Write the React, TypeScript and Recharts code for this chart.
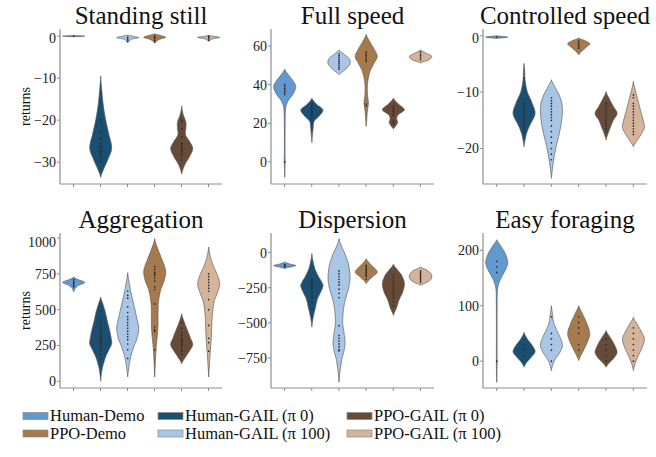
import React from "react";
import { Bar, ComposedChart, XAxis, YAxis } from "recharts";

const categories = [
  "Human-Demo",
  "Human-GAIL (π 0)",
  "Human-GAIL (π 100)",
  "PPO-Demo",
  "PPO-GAIL (π 0)",
  "PPO-GAIL (π 100)",
];
const colors = ["#6199d1", "#1b4f72", "#a9c6e6", "#a77a4d", "#654b38", "#d5b49c"];

// legend rows as in the figure (index into categories)
const legendRows = [
  [0, 1, 4],
  [3, 2, 5],
];

// each violin: [value, relative half width] knots, top to bottom
const standingStillShapes = [
  [[0.15, 0], [0, 1], [-0.15, 0]],
  [[-9.45, 0], [-13.6, 0.12], [-16.75, 0.25], [-19.9, 0.45], [-23.1, 0.72], [-26.7, 1.0], [-29.4, 0.65], [-31.8, 0.25], [-33.65, 0]],
  [[0.3, 0], [-0.1, 0.6], [-0.35, 1], [-0.7, 0.35], [-1.5, 0]],
  [[0.55, 0], [0.1, 0.6], [-0.25, 1], [-0.7, 0.5], [-1.2, 0.15], [-1.7, 0]],
  [[-16.6, 0], [-18.5, 0.12], [-20.5, 0.38], [-22, 0.38], [-23.5, 0.35], [-25, 0.7], [-26.7, 1.0], [-28.5, 0.75], [-30.5, 0.3], [-32.8, 0]],
  [[0.15, 0], [-0.1, 0.6], [-0.3, 1], [-0.6, 0.4], [-1.2, 0]],
];
const standingStillPoints = [
  [0],
  [-13.5, -20, -22.8, -24.5, -25.5, -26, -26.5, -27, -27.5, -28, -28.5, -29, -29.8],
  [-0.2, -0.5, -0.9, -1.3],
  [0, -0.3, -0.6, -1, -1.4],
  [-20, -20.5, -22, -24, -25.5, -26, -26.5, -27, -27.5, -28, -28.5, -29.5],
  [0, -0.3, -0.6, -1],
];

const fullSpeedShapes = [
  [[48, 0], [45, 0.35], [42, 0.75], [39, 1.0], [35, 0.75], [32, 0.35], [29, 0.12], [25, 0.05], [15, 0.03], [5, 0.03], [0, 0.04], [-4, 0.02], [-8, 0]],
  [[33, 0], [30, 0.4], [27, 1.0], [24, 0.7], [21, 0.2], [18, 0.12], [14, 0.05], [10, 0]],
  [[58, 0], [56, 0.4], [53.5, 0.9], [51, 1.0], [48, 0.6], [45.2, 0]],
  [[66, 0], [62, 0.35], [58, 0.75], [54.5, 1.0], [51, 0.7], [47, 0.35], [42, 0.15], [38, 0.1], [34, 0.13], [30.5, 0.2], [26, 0.1], [22, 0.05], [18.4, 0]],
  [[33, 0], [30, 0.45], [27, 1.0], [24.5, 0.45], [22.5, 0.3], [20.5, 0.38], [18.5, 0.2], [17, 0]],
  [[58, 0], [56, 0.6], [54.8, 1.0], [53, 0.8], [51.2, 0]],
];
const fullSpeedPoints = [
  [35, 36, 37, 38, 39, 40, 0],
  [20, 22, 23, 24, 25, 26, 27, 28, 29, 30],
  [48, 49, 50, 51, 52, 53, 54, 55, 56],
  [52, 53, 54, 55, 56, 57, 29, 30],
  [20, 21, 24, 25, 26, 27, 28, 29],
  [53, 54, 55, 56, 57],
];

const controlledSpeedShapes = [
  [[0, 0], [-0.24, 1], [-0.48, 0]],
  [[-4.9, 0], [-6, 0.05], [-8, 0.1], [-10, 0.3], [-11.5, 0.65], [-13.8, 1.0], [-16, 0.5], [-17.5, 0.2], [-19.7, 0]],
  [[-7.8, 0], [-9, 0.3], [-10.5, 0.7], [-12, 0.95], [-13.5, 1.0], [-15.5, 0.9], [-17.5, 0.7], [-19.5, 0.45], [-21.5, 0.25], [-23.5, 0.1], [-25.3, 0]],
  [[-0.4, 0], [-0.9, 0.6], [-1.4, 1.0], [-2, 0.7], [-2.8, 0.25], [-3.4, 0]],
  [[-9.9, 0], [-11, 0.25], [-12.5, 0.65], [-13.8, 1.0], [-15, 0.65], [-16.5, 0.35], [-17.5, 0.15], [-18.5, 0]],
  [[-8.1, 0], [-9.5, 0.15], [-11, 0.35], [-12.5, 0.55], [-14, 0.75], [-15.5, 0.95], [-16.3, 1.0], [-17.5, 0.7], [-18.7, 0.3], [-19.7, 0]],
];
const controlledSpeedPoints = [
  [-0.24],
  [-7.5, -12, -12.5, -13, -13.5, -14, -14.5, -15, -15.5, -16, -16.5, -17],
  [-11, -11.5, -12, -12.5, -13, -13.5, -14, -14.5, -15, -16, -17, -18, -19, -20, -21, -22],
  [-1, -1.3, -1.6, -1.9, -2.2],
  [-12, -12.5, -13, -13.5, -14, -14.5, -15, -15.5, -16, -16.5, -17],
  [-10.5, -11, -12, -12.5, -13, -13.5, -14, -14.5, -15, -15.5, -16, -16.5, -17, -17.5],
];

const aggregationShapes = [
  [[728, 0], [710, 0.4], [690, 1.0], [670, 0.45], [650, 0.15], [623, 0]],
  [[588, 0], [540, 0.2], [490, 0.4], [420, 0.6], [360, 0.8], [300, 0.95], [263, 1.0], [220, 0.75], [170, 0.45], [120, 0.25], [80, 0.12], [40, 0.05], [0, 0]],
  [[758, 0], [680, 0.15], [600, 0.35], [520, 0.6], [450, 0.8], [370, 1.0], [300, 0.85], [240, 0.55], [180, 0.3], [120, 0.15], [70, 0.06], [30, 0]],
  [[996, 0], [930, 0.25], [860, 0.6], [800, 0.9], [760, 1.0], [700, 0.85], [640, 0.55], [560, 0.35], [480, 0.3], [400, 0.3], [330, 0.25], [250, 0.15], [170, 0.08], [100, 0.04], [30, 0]],
  [[472, 0], [420, 0.2], [360, 0.5], [300, 0.8], [255, 1.0], [210, 0.7], [170, 0.35], [123, 0]],
  [[937, 0], [870, 0.15], [800, 0.45], [740, 0.8], [680, 1.0], [620, 0.8], [560, 0.5], [480, 0.35], [400, 0.28], [320, 0.25], [240, 0.18], [160, 0.1], [100, 0.05], [30, 0]],
];
const aggregationPoints = [
  [660, 670, 680, 690, 700, 710],
  [160, 190, 210, 230, 250, 260, 270, 280, 290, 300, 320, 340, 360, 380, 400, 430, 490],
  [160, 220, 260, 290, 310, 330, 350, 370, 390, 410, 430, 450, 480, 520, 580, 600, 630],
  [220, 350, 360, 380, 540, 640, 660, 700, 720, 740, 750, 760, 780, 800],
  [190, 210, 230, 250, 260, 270, 280, 290, 300, 320, 340, 370, 410],
  [210, 270, 300, 390, 500, 570, 630, 650, 670, 690, 710, 730, 750],
];

const dispersionShapes = [
  [[-67, 0], [-82, 0.5], [-92, 1.0], [-104, 0.4], [-114, 0]],
  [[-7, 0], [-60, 0.1], [-120, 0.3], [-170, 0.6], [-220, 0.95], [-240, 1.0], [-280, 0.8], [-330, 0.5], [-400, 0.3], [-460, 0.12], [-530, 0]],
  [[100, 0], [50, 0.2], [0, 0.5], [-80, 0.85], [-180, 1.0], [-260, 0.85], [-340, 0.55], [-420, 0.38], [-500, 0.33], [-570, 0.45], [-640, 0.55], [-700, 0.45], [-760, 0.25], [-840, 0.1], [-922, 0]],
  [[-43, 0], [-80, 0.35], [-110, 0.75], [-140, 1.0], [-170, 0.6], [-200, 0.2], [-221, 0]],
  [[-83, 0], [-120, 0.35], [-160, 0.75], [-220, 1.0], [-280, 0.85], [-340, 0.5], [-390, 0.3], [-447, 0]],
  [[-102, 0], [-130, 0.7], [-160, 1.0], [-190, 0.95], [-215, 0.5], [-233, 0]],
];
const dispersionPoints = [
  [-85, -90, -95, -100],
  [-190, -200, -210, -220, -230, -240, -250, -260, -280, -300, -320, -350, -400, -450],
  [-130, -150, -170, -190, -210, -230, -260, -290, -320, -520, -590, -610, -630, -650, -670, -690, -700],
  [-90, -100, -110, -120, -130, -140, -150, -160, -170, -190],
  [-160, -180, -200, -220, -240, -260, -280, -300, -320, -350, -380],
  [-130, -140, -150, -160, -170, -180, -190, -200, -210],
];

const easyForagingShapes = [
  [[219, 0], [210, 0.3], [195, 0.75], [178, 1.0], [165, 0.8], [150, 0.4], [138, 0.15], [125, 0.05], [80, 0.03], [20, 0.03], [-10, 0.03], [-38, 0]],
  [[52, 0], [40, 0.3], [28, 0.75], [17, 1.0], [7, 0.65], [-2, 0.25], [-11, 0]],
  [[100, 0], [85, 0.1], [70, 0.2], [55, 0.5], [40, 0.85], [28, 1.0], [15, 0.75], [5, 0.4], [-5, 0.15], [-17, 0]],
  [[100, 0], [85, 0.35], [70, 0.7], [50, 1.0], [35, 0.8], [20, 0.45], [8, 0.15], [1, 0]],
  [[55, 0], [42, 0.4], [30, 0.75], [16, 1.0], [5, 0.7], [-3, 0.3], [-11, 0]],
  [[79, 0], [65, 0.4], [50, 0.8], [40, 1.0], [25, 0.8], [10, 0.45], [-5, 0.15], [-17, 0]],
];
const easyForagingPoints = [
  [160, 170, 180, 0],
  [10, 20, 30],
  [0, 20, 30, 40, 50, 80],
  [20, 30, 50, 60, 70, 80],
  [0, 10, 20, 30, 40],
  [0, 10, 20, 30, 40, 50, 60],
];

const panels = [
  { title: "Standing still", left: 60, top: 29, width: 162, domain: [-35.2, 1.7], ticks: [-30, -20, -10, 0], shapes: standingStillShapes, points: standingStillPoints, ylabel: true },
  { title: "Full speed", left: 271, top: 29, width: 163, domain: [-11.4, 68.8], ticks: [0, 20, 40, 60], shapes: fullSpeedShapes, points: fullSpeedPoints, ylabel: false },
  { title: "Controlled speed", left: 483, top: 29, width: 164, domain: [-26.3, 1.2], ticks: [-20, -10, 0], shapes: controlledSpeedShapes, points: controlledSpeedPoints, ylabel: false },
  { title: "Aggregation", left: 60, top: 233, width: 162, domain: [-47, 1035], ticks: [0, 250, 500, 750, 1000], shapes: aggregationShapes, points: aggregationPoints, ylabel: true },
  { title: "Dispersion", left: 271, top: 233, width: 163, domain: [-964, 140], ticks: [-750, -500, -250, 0], shapes: dispersionShapes, points: dispersionPoints, ylabel: false },
  { title: "Easy foraging", left: 483, top: 233, width: 164, domain: [-48.4, 231], ticks: [0, 100, 200], shapes: easyForagingShapes, points: easyForagingPoints, ylabel: false },
];

const PLOT_H = 155;
const AXIS_W = 50;
const axisColor = "#8e8e8e";
const font = "Liberation Serif";

function sampleProfile(knots: number[][]) {
  const out: number[][] = [];
  const n = knots.length;
  for (let i = 0; i < n - 1; i++) {
    const p0 = knots[Math.max(i - 1, 0)];
    const p1 = knots[i];
    const p2 = knots[i + 1];
    const p3 = knots[Math.min(i + 2, n - 1)];
    for (let s = 0; s < 10; s++) {
      const t = s / 10;
      const v = p1[0] + (p2[0] - p1[0]) * t;
      const w =
        0.5 *
        (2 * p1[1] +
          (-p0[1] + p2[1]) * t +
          (2 * p0[1] - 5 * p1[1] + 4 * p2[1] - p3[1]) * t * t +
          (-p0[1] + 3 * p1[1] - 3 * p2[1] + p3[1]) * t * t * t);
      out.push([v, Math.max(0, w)]);
    }
  }
  out.push(knots[n - 1]);
  return out;
}

function Violin(props: any) {
  const { x, y, width, height, payload } = props;
  if (!payload) return null;
  const knots: number[][] = payload.shape;
  const top = Math.min(y, y + height);
  const bottom = Math.max(y, y + height);
  const hi = knots[0][0];
  const lo = knots[knots.length - 1][0];
  const toPx = (v: number) => top + ((hi - v) / (hi - lo)) * (bottom - top);
  const cx = x + width / 2;
  const hw = width / 2;
  const prof = sampleProfile(knots);
  const right = prof.map(([v, w]) => `${(cx + w * hw).toFixed(2)},${toPx(v).toFixed(2)}`);
  const left = prof
    .slice()
    .reverse()
    .map(([v, w]) => `${(cx - w * hw).toFixed(2)},${toPx(v).toFixed(2)}`);
  const d = `M${right.join("L")}L${left.join("L")}Z`;
  return (
    <g>
      <path d={d} fill={payload.color} stroke="#5a5a5a" strokeWidth={0.7} />
      {payload.points.map((v: number, i: number) => (
        <circle key={i} cx={cx} cy={toPx(v)} r={0.85} fill="#2b2b2b" />
      ))}
    </g>
  );
}

const fmtTick = (v: number) => String(v).replace("-", "\u2212");

function YTick({ x, y, payload }: any) {
  return (
    <text x={x} y={y} dy="0.35em" textAnchor="end" fontFamily={font} fontSize={14} fill="#222">
      {fmtTick(payload.value)}
    </text>
  );
}

function ViolinPanel({ panel }: { panel: (typeof panels)[number] }) {
  const data = categories.map((name, i) => {
    const shape = panel.shapes[i];
    return {
      name,
      range: [shape[shape.length - 1][0], shape[0][0]],
      shape,
      points: panel.points[i],
      color: colors[i],
    };
  });
  return (
    <div style={{ position: "absolute", left: panel.left - AXIS_W, top: panel.top }}>
      <ComposedChart
        width={panel.width + AXIS_W}
        height={PLOT_H + 10}
        data={data}
        margin={{ top: 0, right: 0, bottom: 0, left: 0 }}
        barCategoryGap="10%"
      >
        <XAxis
          dataKey="name"
          type="category"
          height={10}
          interval={0}
          axisLine={{ stroke: axisColor, strokeWidth: 1.2 }}
          tickLine={{ stroke: axisColor }}
          tickSize={3}
          tick={() => <g />}
        />
        <YAxis
          type="number"
          width={AXIS_W}
          domain={panel.domain}
          ticks={panel.ticks}
          allowDataOverflow
          axisLine={{ stroke: axisColor, strokeWidth: 1.2 }}
          tickLine={{ stroke: axisColor }}
          tickSize={3}
          tickMargin={1}
          tick={<YTick />}
        />
        <Bar dataKey="range" isAnimationActive={false} shape={(p: any) => <Violin {...p} />} />
      </ComposedChart>
    </div>
  );
}

export default function App() {
  const legendX = [23, 158, 347];
  const legendY = [416, 433.5];
  return (
    <div style={{ position: "absolute", left: 0, top: 0, width: 656, height: 457, background: "#fff" }}>
      {panels.map((p) => (
        <ViolinPanel key={p.title} panel={p} />
      ))}
      <svg width={656} height={457} style={{ position: "absolute", left: 0, top: 0, pointerEvents: "none" }}>
        {panels.map((p) => (
          <text
            key={p.title}
            x={p.left + p.width / 2}
            y={p.top - 5}
            textAnchor="middle"
            fontFamily={font}
            fontSize={25}
            fill="#111"
          >
            {p.title}
          </text>
        ))}
        {panels
          .filter((p) => p.ylabel)
          .map((p) => (
            <text
              key={`yl-${p.title}`}
              transform={`translate(30, ${p.top + PLOT_H / 2}) rotate(-90)`}
              textAnchor="middle"
              fontFamily={font}
              fontSize={14}
              fill="#111"
            >
              returns
            </text>
          ))}
        {legendRows.map((row, r) =>
          row.map((ci, c) => (
            <g key={`lg-${r}-${c}`}>
              <rect
                x={legendX[c]}
                y={legendY[r] - 3.5}
                width={25}
                height={7}
                fill={colors[ci]}
                stroke="#8a8a8a"
                strokeWidth={0.7}
              />
              <text x={legendX[c] + 27} y={legendY[r] + 5} fontFamily={font} fontSize={16.5} fill="#111">
                {categories[ci]}
              </text>
            </g>
          ))
        )}
      </svg>
    </div>
  );
}
